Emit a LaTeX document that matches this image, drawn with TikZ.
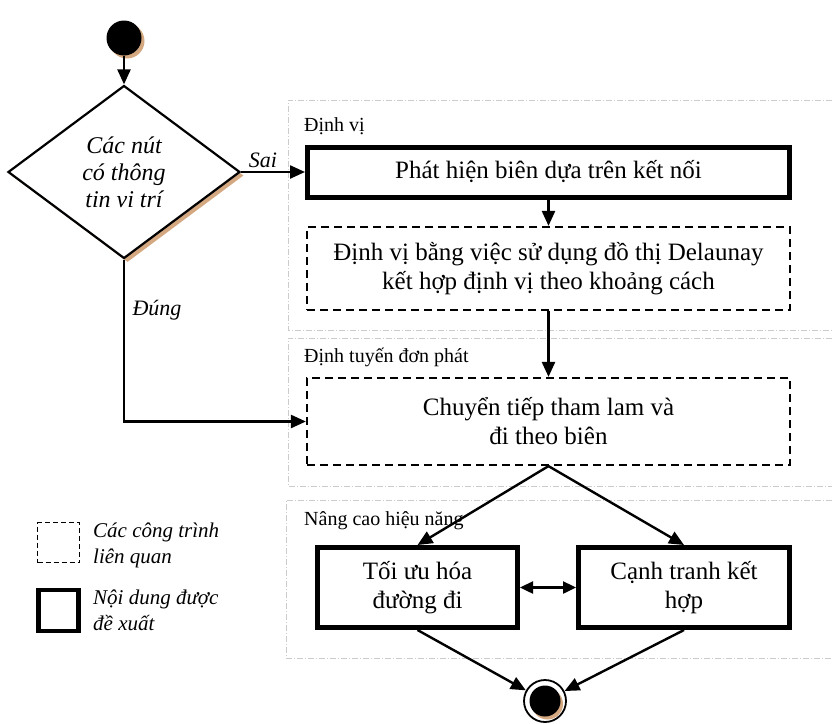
\documentclass[tikz,border=0pt]{standalone}
\usepackage{fontspec}
\setmainfont{Liberation Serif}
\usetikzlibrary{arrows.meta,shapes.geometric}
\definecolor{shadowc}{RGB}{212,168,128}
\begin{document}
\begin{tikzpicture}[x=1pt,y=-1pt,
  conn/.style={line width=2.4pt,-{Triangle[length=15pt,width=13pt]}},
  conn2/.style={line width=2.4pt,{Triangle[length=13pt,width=12pt]}-{Triangle[length=13pt,width=12pt]}},
  boxtext/.style={align=center,font=\fontsize{25}{29}\selectfont,inner sep=0pt},
  propbox/.style={boxtext,draw,line width=5pt,fill=white},
  relbox/.style={boxtext,draw,line width=2.2pt,dash pattern=on 8pt off 5pt,fill=white},
  grp/.style={draw=gray!40,line width=0.8pt,dash pattern=on 6pt off 2pt on 1pt off 2pt},
  grplabel/.style={font=\fontsize{20}{24}\selectfont,anchor=west,inner sep=0pt},
  lbl/.style={font=\itshape\fontsize{22}{26}\selectfont,inner sep=0pt},
  legtext/.style={font=\itshape\fontsize{21}{26}\selectfont,align=left,anchor=west,inner sep=0pt},
]
\useasboundingbox (0,0) rectangle (832,723);

% group frames
\draw[grp] (832,100) -| (288,330) -- (832,330);
\draw[grp] (832,338) -| (288,486) -- (832,486);
\draw[grp] (832,500) -| (286,658) -- (832,658);

\node[grplabel] (g1) at (304,126) {Định vị};
\node[grplabel] (g2) at (304,357) {Định tuyến đơn phát};
\node[grplabel] (g3) at (304,521) {Nâng cao hiệu năng};

% start
\node[circle,fill=shadowc,minimum size=35pt,inner sep=0pt] (starts) at (127,41) {};
\node[circle,fill=black,minimum size=35pt,inner sep=0pt] (start) at (124,38) {};

% decision
\node[diamond,fill=shadowc,minimum width=232pt,minimum height=173pt,aspect=1.34,inner sep=0pt] (decs) at (127.5,175.5) {};
\node[diamond,draw,fill=white,line width=2.2pt,minimum width=232pt,minimum height=173pt,aspect=1.34,inner sep=0pt,
      align=center,font=\itshape\fontsize{24}{27}\selectfont] (dec) at (124,172) {Các nút\\có thông\\tin vi trí};

% boxes
\node[propbox,minimum width=482pt,minimum height=50pt] (b1) at (548.5,172) {Phát hiện biên dựa trên kết nối};
\node[relbox,minimum width=483pt,minimum height=83pt] (b2) at (548.5,268.5) {Định vị bằng việc sử dụng đồ thị Delaunay\\kết hợp định vị theo khoảng cách};
\node[relbox,minimum width=483pt,minimum height=87pt] (b3) at (548.5,421.5) {Chuyển tiếp tham lam và\\đi theo biên};
\node[propbox,minimum width=200pt,minimum height=80pt] (b4) at (417.5,587.5) {Tối ưu hóa\\đường đi};
\node[propbox,minimum width=211pt,minimum height=80pt] (b5) at (684,587.5) {Cạnh tranh kết\\hợp};

% end
\node[circle,draw,line width=1.8pt,fill=white,minimum size=42pt,inner sep=0pt] (endc) at (545,701) {};
\node[circle,fill=shadowc,minimum size=31pt,inner sep=0pt] (ends) at (547.5,704) {};
\node[circle,fill=black,minimum size=31pt,inner sep=0pt] (endi) at (545,701) {};

% connectors
\draw[conn] (start) -- (dec.north);
\draw[conn] (dec.east) -- (b1.west);
\node[lbl] (sai) at (263,160) {Sai};
\draw[conn] (dec.south) |- (b3.west);
\node[lbl] (dung) at (157,310) {Đúng};
\draw[conn] (b1) -- (b2);
\draw[conn] (b2) -- (b3);
\draw[conn] (b3.south) -- (b4.north);
\draw[conn] (b3.south) -- (b5.north);
\draw[conn2] (b4) -- (b5);
\draw[conn] (b4.south) -- (endc);
\draw[conn] (b5.south) -- (endc);

% legend
\node[draw,line width=1.5pt,dash pattern=on 5pt off 3pt,minimum width=42pt,minimum height=40pt,inner sep=0pt] (leg1) at (58.5,542.5) {};
\node[legtext] (leg1t) at (93,545) {Các công trình\\liên quan};
\node[draw,line width=4.5pt,minimum width=40pt,minimum height=41pt,inner sep=0pt] (leg2) at (58.5,610.5) {};
\node[legtext] (leg2t) at (93,610) {Nội dung được\\đề xuất};
\end{tikzpicture}
\end{document}
